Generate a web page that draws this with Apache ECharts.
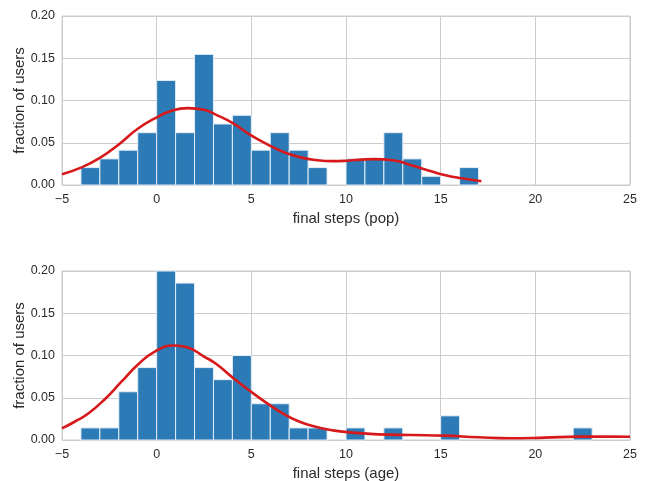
<!DOCTYPE html>
<html>
<head>
<meta charset="utf-8">
<script src="https://cdn.jsdelivr.net/npm/echarts@6/dist/echarts.min.js"></script>
<style>html,body{margin:0;padding:0;background:#fff}#c{width:646px;height:481px}</style>
</head>
<body>
<div id="c"></div>
<script>
// ---- data ----
var binWidth = 1;
var popBinStarts = [-4,-3,-2,-1,0,1,2,3,4,5,6,7,8,9,10,11,12,13,14,15,16];
var popValues = [0.0206,0.0309,0.0412,0.0619,0.1237,0.0619,0.1546,0.0722,0.0825,0.0412,0.0619,0.0412,0.0206,0,0.0309,0.0309,0.0619,0.0309,0.0103,0,0.0206];
var ageBinStarts = [-4,-3,-2,-1,0,1,2,3,4,5,6,7,8,9,10,11,12,13,14,15,16,17,18,19,20,21,22];
var ageValues = [0.0143,0.0143,0.0571,0.0857,0.2,0.1857,0.0857,0.0714,0.1,0.0429,0.0429,0.0143,0.0143,0,0.0143,0,0.0143,0,0,0.0286,0,0,0,0,0,0,0.0143];
var popCurveX = [-5,-4,-3,-2,-1,0,0.8,1.65,2.5,3.15,4.0,4.9,5.8,6.7,7.55,8.45,9.3,10.2,10.8,11.5,12.55,13.45,14.35,15.2,16.1,17.15];
var popCurveY = [0.0126,0.0205,0.032,0.048,0.0665,0.080,0.088,0.091,0.089,0.083,0.0734,0.060,0.0487,0.039,0.033,0.0294,0.0282,0.029,0.030,0.0306,0.029,0.0235,0.0173,0.0118,0.0079,0.0044];
var ageCurveX = [-5,-4.33,-3.63,-2.75,-1.86,-1,-0.1,0.9,1.65,2.5,3.15,4.0,4.9,5.8,6.7,7.55,8.45,9.3,10.2,11.7,13.45,15.2,17.0,18.7,20.5,22.25,24.0,25];
var ageCurveY = [0.0138,0.0216,0.031,0.048,0.069,0.089,0.1047,0.1118,0.1094,0.0988,0.0899,0.0741,0.0585,0.044,0.031,0.0216,0.0153,0.0114,0.009,0.0067,0.0059,0.0052,0.0032,0.002,0.0028,0.004,0.004,0.0038];
var xTicks = {min:-5, max:25, interval:5};
var yTicks = {min:0, max:0.2, interval:0.05};
var xNames = ['final steps (pop)', 'final steps (age)'];
var yName = 'fraction of users';

// ---- styling ----
var FONT = 'Liberation Sans, Arial, sans-serif';
var TXT = '#2b2b2b';
var GRIDC = '#cccccc';
var BAR = '#2c7bb6';
var RED = '#d7191c';

function zip(a, b){ return a.map(function(v,i){ return [v, b[i]]; }); }

function renderBar(params, api){
  var x0 = api.value(0), h = api.value(1);
  if (!h) return null;
  var p0 = api.coord([x0, h]);
  var p1 = api.coord([x0 + binWidth, 0]);
  return {type:'rect', shape:{x:p0[0], y:p0[1], width:p1[0]-p0[0], height:p1[1]-p0[1]},
    style:{fill:BAR, stroke:'#e4edf6', lineWidth:1}};
}

function xAxis(i){
  return {type:'value', gridIndex:i, min:xTicks.min, max:xTicks.max, interval:xTicks.interval,
    name:xNames[i], nameLocation:'middle', nameGap:26, nameMoveOverlap:false,
    nameTextStyle:{fontFamily:FONT, fontSize:15, color:TXT},
    axisLine:{show:false}, axisTick:{show:false},
    axisLabel:{fontFamily:FONT, fontSize:12.5, color:TXT, margin:8,
      formatter:function(v){ return String(v).replace('-', '\u2212'); }},
    splitLine:{show:true, lineStyle:{color:GRIDC, width:1}}};
}
function yAxis(i){
  return {type:'value', gridIndex:i, min:yTicks.min, max:yTicks.max, interval:yTicks.interval,
    name:yName, nameLocation:'middle', nameGap:35, nameRotate:90, nameMoveOverlap:false,
    nameTextStyle:{fontFamily:FONT, fontSize:15, color:TXT},
    axisLine:{show:false}, axisTick:{show:false},
    axisLabel:{fontFamily:FONT, fontSize:12.5, color:TXT, margin:7,
      formatter:function(v){ return v.toFixed(2); }},
    splitLine:{show:true, lineStyle:{color:GRIDC, width:1}}};
}

var chart = echarts.init(document.getElementById('c'), null, {renderer:'canvas'});
chart.setOption({
  animation:false,
  backgroundColor:'#ffffff',
  grid:[
    {left:62, right:16, top:16, height:169, show:true, borderColor:GRIDC, borderWidth:1, containLabel:false, outerBoundsMode:'none'},
    {left:62, right:16, top:271, height:169, show:true, borderColor:GRIDC, borderWidth:1, containLabel:false, outerBoundsMode:'none'}
  ],
  xAxis:[xAxis(0), xAxis(1)],
  yAxis:[yAxis(0), yAxis(1)],
  series:[
    {type:'custom', xAxisIndex:0, yAxisIndex:0, renderItem:renderBar, data:zip(popBinStarts, popValues), z:2},
    {type:'line', xAxisIndex:0, yAxisIndex:0, data:zip(popCurveX, popCurveY), smooth:true, showSymbol:false,
      lineStyle:{color:RED, width:2.6}, z:3},
    {type:'custom', xAxisIndex:1, yAxisIndex:1, renderItem:renderBar, data:zip(ageBinStarts, ageValues), z:2},
    {type:'line', xAxisIndex:1, yAxisIndex:1, data:zip(ageCurveX, ageCurveY), smooth:true, showSymbol:false,
      lineStyle:{color:RED, width:2.6}, z:3}
  ]
});
</script>
</body>
</html>
